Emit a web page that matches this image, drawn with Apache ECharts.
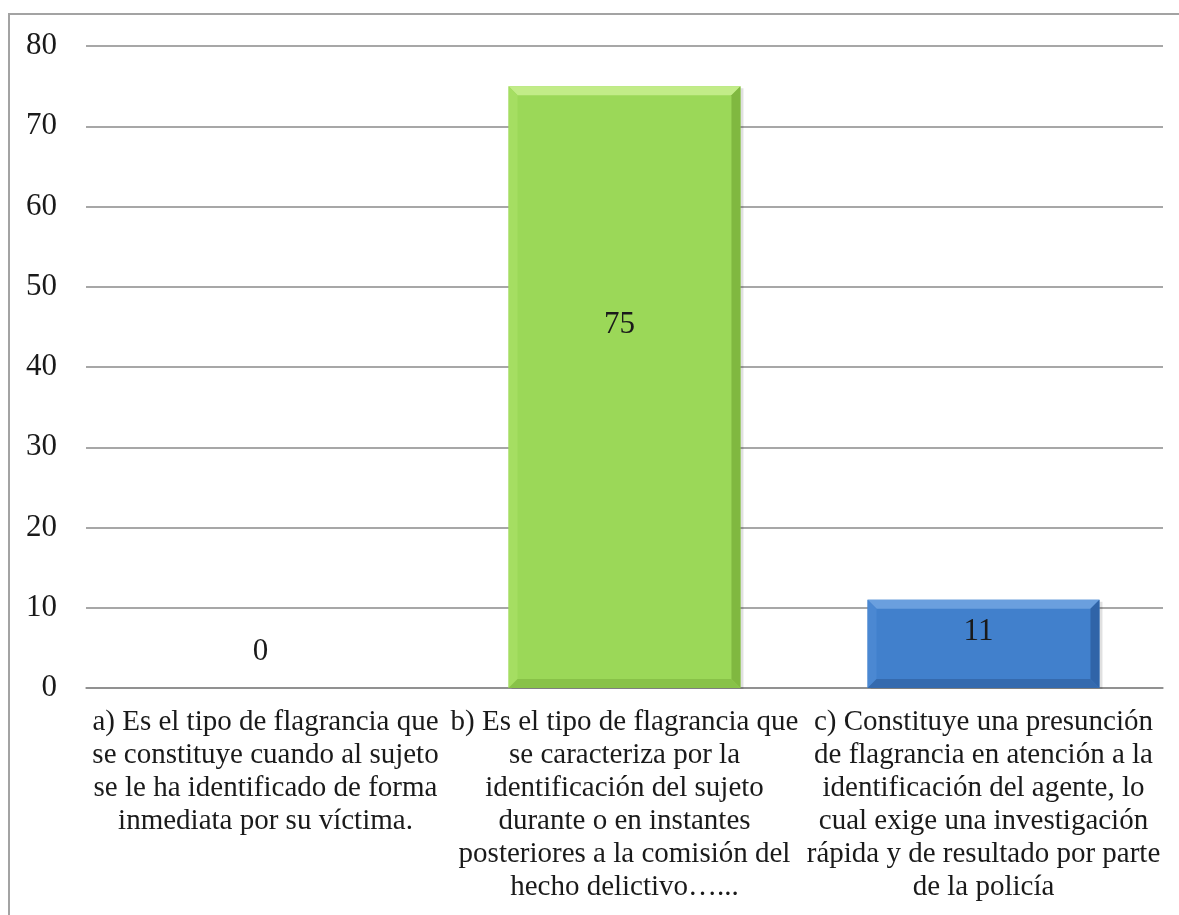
<!DOCTYPE html>
<html>
<head>
<meta charset="utf-8">
<script src="https://cdn.jsdelivr.net/npm/echarts@6/dist/echarts.min.js"></script>
<style>
  html, body { margin: 0; padding: 0; background: #fff; }
  #chart { width: 1179px; height: 915px; }
</style>
</head>
<body>
<div id="chart"></div>
<script>
// categories (line breaks as they appear under the axis)
var categories = [
  "a) Es el tipo de flagrancia que\nse constituye cuando al sujeto\nse le ha identificado de forma\ninmediata por su víctima.",
  "b) Es el tipo de flagrancia que\nse caracteriza por la\nidentificación del sujeto\ndurante o en instantes\nposteriores a la comisión del\nhecho delictivo…...",
  "c) Constituye una presunción\nde flagrancia en atención a la\nidentificación del agente, lo\ncual exige una investigación\nrápida y de resultado por parte\nde la policía"
];
var values = [0, 75, 11];
var yTicks = [0, 10, 20, 30, 40, 50, 60, 70, 80];

// styling
var fills = [
  { main: "#9bd858", hi: "#c2ec88", side: "#a5de62", dark: "#80b840", low: "#88c248" },
  { main: "#9bd858", hi: "#c2ec88", side: "#a5de62", dark: "#80b840", low: "#88c248" },
  { main: "#4180cc", hi: "#6a9fde", side: "#4b88d2", dark: "#3064a8", low: "#356aae" }
];
var labelShift = [-36, -62, -12];
var serif = "'Liberation Serif', 'Times New Roman', serif";

var myChart = echarts.init(document.getElementById("chart"));

function renderBar(params, api) {
  var i = params.dataIndex;
  var v = api.value(1);
  var base = api.coord([i, 0]);
  var top = api.coord([i, v]);
  var w = api.size([1, 0])[0] * 0.646;
  var x0 = base[0] - w / 2, x1 = base[0] + w / 2;
  var y0 = top[1], y1 = base[1];
  var b = Math.min(9, (y1 - y0) / 2);
  var c = fills[i];
  var kids = [];
  if (y1 - y0 > 0.5) {
    kids.push({ type: "rect", shape: { x: x0 + 3, y: y0 + 2, width: w, height: y1 - y0 - 1 },
      style: { fill: "rgba(0,0,0,0.12)" } });
    kids.push({ type: "rect", shape: { x: x0, y: y0, width: w, height: y1 - y0 }, style: { fill: c.main } });
    kids.push({ type: "polygon", shape: { points: [[x0, y0], [x1, y0], [x1 - b, y0 + b], [x0 + b, y0 + b]] }, style: { fill: c.hi } });
    kids.push({ type: "polygon", shape: { points: [[x0, y0], [x0 + b, y0 + b], [x0 + b, y1 - b], [x0, y1]] }, style: { fill: c.side } });
    kids.push({ type: "polygon", shape: { points: [[x1, y0], [x1, y1], [x1 - b, y1 - b], [x1 - b, y0 + b]] }, style: { fill: c.dark } });
    kids.push({ type: "polygon", shape: { points: [[x0, y1], [x1, y1], [x1 - b, y1 - b], [x0 + b, y1 - b]] }, style: { fill: c.low } });
  }
  var ly = (y0 + y1) / 2 + labelShift[i];
  kids.push({
    type: "text",
    style: {
      text: String(v),
      x: base[0] - 5,
      y: ly,
      align: "center",
      verticalAlign: "middle",
      font: "31px " + serif,
      fill: "#1a1a1a"
    }
  });
  return { type: "group", children: kids };
}

var option = {
  animation: false,
  backgroundColor: "#fff",
  grid: { left: 86, right: 16, top: 46, bottom: 227 },
  graphic: [{
    type: "rect",
    shape: { x: 9, y: 14, width: 1300, height: 1000 },
    style: { fill: null, stroke: "#a3a3a3", lineWidth: 2 },
    z: -1
  }],
  xAxis: {
    type: "category",
    data: categories,
    axisTick: { show: false },
    axisLine: { show: true, lineStyle: { color: "#8a8a8a", width: 1.5 } },
    axisLabel: {
      interval: 0,
      margin: 18,
      fontFamily: serif,
      fontSize: 29,
      lineHeight: 33,
      color: "#1a1a1a",
      align: "center"
    }
  },
  yAxis: {
    type: "value",
    min: 0,
    max: 80,
    interval: 10,
    axisLine: { show: false },
    axisTick: { show: false },
    splitLine: { lineStyle: { color: "#8a8a8a", width: 1.5 } },
    axisLabel: {
      margin: 29,
      fontFamily: serif,
      fontSize: 31,
      color: "#1a1a1a",
      formatter: function (val) { return yTicks.indexOf(val) >= 0 ? String(val) : ""; }
    }
  },
  series: [{
    type: "custom",
    renderItem: renderBar,
    encode: { x: 0, y: 1 },
    data: values.map(function (v, i) { return [i, v]; }),
    z: 3
  }]
};
myChart.setOption(option);
</script>
</body>
</html>
